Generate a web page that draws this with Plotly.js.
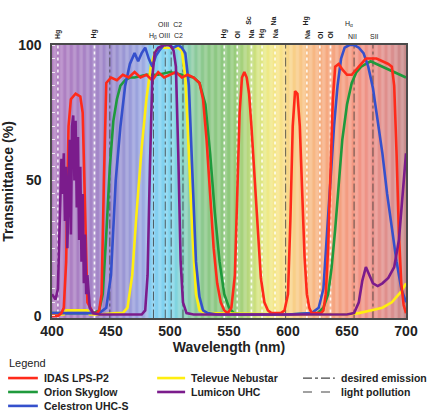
<!DOCTYPE html>
<html>
<head>
<meta charset="utf-8">
<script src="https://cdn.plot.ly/plotly-3.0.1.min.js"></script>
<style>html,body{margin:0;padding:0;background:#fff;}#chart{width:438px;height:418px;}</style>
</head>
<body>
<div id="chart"></div>
<script>
// ---- data ----
const idasWl = [400,405,408,410,412,414,416,420,424,426,428,430,435,438,440,442,444,446,450,455,460,465,470,475,480,485,490,495,500,505,510,515,520,525,528,531,534,537,540,543,546,549,552,555,557,559,561,563,565,567,569,571,573,575,577,580,583,586,590,594,597,600,602,604,606,608,610,612,614,616,618,620,625,628,630,632,634,636,638,640,643,646,650,654,658,662,666,670,675,680,685,688,690,692,694,696,698,700];
const idasT  = [0,0,1,3,20,70,80,82,81,75,40,5,1,1,2,8,50,86,88,87,89,88,90,88,89,87,90,88,89,90,88,89,88,86,80,65,45,25,12,5,2,1,3,15,45,75,88,90,88,82,70,55,40,25,14,5,2,1,1,1,2,8,35,70,83,82,70,45,22,8,3,1,1,1,2,8,25,55,80,92,93,91,89,89,91,93,95,95,95,94,93,92,85,60,30,12,4,1];

const orionWl = [400,420,435,440,443,446,449,452,455,458,462,466,470,480,490,500,510,520,525,530,534,538,542,546,550,554,560,600,625,630,634,637,640,643,646,650,654,658,662,666,670,675,680,685,690,695,700];
const orionT  = [1,1,1,2,8,30,55,72,80,85,87,88,88,89,89,90,89,88,86,78,60,38,20,8,3,1,0.5,0.5,1,3,8,18,32,50,65,78,86,90,92,93,94,93,92,91,90,89,88];

const celesWl = [400,430,440,446,450,454,458,462,466,470,473,476,479,482,485,488,491,495,499,503,507,510,513,516,519,522,525,528,532,540,600,620,626,630,633,636,639,642,645,648,652,656,660,664,668,672,676,680,684,688,692,696,700];
const celesT  = [1,1,1,3,15,50,70,85,93,97,94,97,99,95,92,96,98,100,100,99,100,99,97,85,50,20,7,2,1,0.5,0.5,1,3,10,30,50,70,85,95,99,100,100,99,97,92,84,72,60,45,32,20,10,5];

const nebuWl = [400,410,412,430,432,440,455,460,464,468,472,476,480,484,488,492,500,506,510,513,516,519,522,525,530,600,650,660,670,680,688,692,696,700];
const nebuT  = [0.5,0.5,2,2,0.5,0.5,1,1,3,15,40,62,80,93,98,99,99,99,98,88,60,30,8,2,1,0.5,0.5,1,2,3,5,7,9,12];

const lumiWl = [400,403,405,407,408,409,410,411,412,413,414,415,416,417,418,419,420,421,422,423,424,425,426,427,428,429,430,432,435,440,470,476,479,481,483,485,487,490,495,500,503,505,507,509,511,514,520,600,650,656,660,663,666,669,672,676,680,685,690,694,697,700];
const lumiT  = [8,6,10,40,58,45,60,35,55,25,50,65,30,70,74,50,72,40,66,28,55,20,45,12,30,8,15,3,1,0.5,0.5,0.5,2,15,55,88,97,99,100,100,98,92,60,20,5,1,0.5,0.5,0.5,1,5,13,18,15,12,11,12,14,18,28,45,60];

const lightPollution = [405,436,546,557,569,578,589,616,627,636];
const desiredEmission = [449,486,496,501,511,598,656,672];

const filterNames = ['IDAS LPS-P2','Orion Skyglow','Celestron UHC-S','Televue Nebustar','Lumicon UHC'];
const filterColors = ['#ff2a1a','#1f9a3c','#3550cc','#ffee10','#7b1c8c'];
const lineNames = ['desired emission','light pollution'];

const xTicks = [400,450,500,550,600,650,700];
const yTicks = [0,50,100];

// top labels: [wavelength, text]
const lpLabelsLow  = [[405,'Hg'],[436,'Hg'],[546,'Hg'],[557,'OI'],[569,'Na'],[578,'Hg'],[589,'Na'],[616,'Na'],[627,'OI'],[636,'OI']];
const lpLabelsHigh = [[567,'Sc'],[588,'Na'],[615,'Hg']];
const emLabelsHigh = [[500,'OIII  C2'],[652,'H<sub>α</sub>']];
const emLabelsLow  = [[497,'H<sub>β</sub> OIII  C2'],[655,'NII'],[673,'SII']];

// background spectrum colour stops
const bgStops = [[400,'#b27fc1'],[420,'#ab80c3'],[440,'#a286c8'],[455,'#9a90d0'],[470,'#9aa0dc'],[480,'#9caee4'],[483,'#84ccf0'],[498,'#80d4f0'],[505,'#80d4e0'],[512,'#84d0c0'],[520,'#8ccaa0'],[530,'#8cc888'],[550,'#8ec87c'],[562,'#a8d27c'],[572,'#cce07e'],[582,'#ecea86'],[592,'#f8e488'],[602,'#f8d488'],[615,'#f8c086'],[630,'#f6ac80'],[645,'#f4a080'],[660,'#f29484'],[675,'#e8908a'],[690,'#d88e8e'],[700,'#c48888']];

// ---- build ----
function hex2rgb(h){return [parseInt(h.slice(1,3),16),parseInt(h.slice(3,5),16),parseInt(h.slice(5,7),16)];}
function colorAt(w){
  for(let i=0;i<bgStops.length-1;i++){
    const a=bgStops[i], b=bgStops[i+1];
    if(w>=a[0] && w<=b[0]){
      const t=(w-a[0])/(b[0]-a[0]); const ca=hex2rgb(a[1]), cb=hex2rgb(b[1]);
      return 'rgb('+ca.map((v,k)=>Math.round(v+(cb[k]-v)*t)).join(',')+')';
    }
  }
  return bgStops[bgStops.length-1][1];
}
const shapes=[];
for(let w=400; w<700; w++){
  shapes.push({type:'rect',xref:'x',yref:'paper',x0:w,x1:w+1.1,y0:0,y1:1,fillcolor:colorAt(w+0.5),line:{width:0},layer:'below'});
}
function vl(arr){const x=[],y=[];arr.forEach(v=>{x.push(v,v,null);y.push(-1,100,null);});return {x,y};}

const traces=[];
const lp=vl(lightPollution), em=vl(desiredEmission);
traces.push({x:lp.x,y:lp.y,mode:'lines',line:{color:'rgba(255,255,255,0.9)',width:1.6,dash:'dot'},hoverinfo:'skip',showlegend:false});
traces.push({x:em.x,y:em.y,mode:'lines',line:{color:'rgba(60,60,60,0.8)',width:1,dash:'dashdot'},hoverinfo:'skip',showlegend:false});
const series=[[orionWl,orionT,1],[nebuWl,nebuT,3],[celesWl,celesT,2],[idasWl,idasT,0],[lumiWl,lumiT,4]];
series.forEach(s=>traces.push({x:s[0],y:s[1],name:filterNames[s[2]],mode:'lines',line:{color:filterColors[s[2]],width:2.6},showlegend:false}));

const ann=[];
const f7={family:'Liberation Sans, Arial, sans-serif',size:7,color:'#222'};
lpLabelsLow.forEach(l=>ann.push({x:l[0],y:1.016,xref:'x',yref:'paper',text:'<b>'+l[1]+'</b>',textangle:-90,showarrow:false,xanchor:'center',yanchor:'bottom',font:f7}));
lpLabelsHigh.forEach(l=>ann.push({x:l[0],y:1.065,xref:'x',yref:'paper',text:'<b>'+l[1]+'</b>',textangle:-90,showarrow:false,xanchor:'center',yanchor:'bottom',font:f7}));
emLabelsHigh.forEach(l=>ann.push({x:l[0],y:1.055,xref:'x',yref:'paper',text:l[1],showarrow:false,xanchor:'center',yanchor:'bottom',font:f7}));
emLabelsLow.forEach(l=>ann.push({x:l[0],y:1.01,xref:'x',yref:'paper',text:l[1],showarrow:false,xanchor:'center',yanchor:'bottom',font:f7}));

// manual legend
const lf={family:'Liberation Sans, Arial, sans-serif',size:11,color:'#222'};
ann.push({x:-0.126,y:-0.165,xref:'paper',yref:'paper',text:'Legend',showarrow:false,xanchor:'left',yanchor:'middle',font:lf});
const cols=[[-0.124,-0.040,-0.028],[0.297,0.376,0.387],[0.709,0.799,0.811]];
const rows=[-0.220,-0.271,-0.322];
const legItems=[[0,0,filterNames[0],filterColors[0],'solid',2.6],[0,1,filterNames[1],filterColors[1],'solid',2.6],[0,2,filterNames[2],filterColors[2],'solid',2.6],
  [1,0,filterNames[3],filterColors[3],'solid',2.6],[1,1,filterNames[4],filterColors[4],'solid',2.6],
  [2,0,lineNames[0],'#444','dashdot',1.2],[2,1,lineNames[1],'#444','dash',1.2]];
legItems.forEach(it=>{
  const c=cols[it[0]], r=rows[it[1]];
  shapes.push({type:'line',xref:'paper',yref:'paper',x0:c[0],x1:c[1],y0:r,y1:r,line:{color:it[3],width:it[5],dash:it[4]}});
  ann.push({x:c[2],y:r,xref:'paper',yref:'paper',text:'<b>'+it[2]+'</b>',showarrow:false,xanchor:'left',yanchor:'middle',font:{family:lf.family,size:10.5,color:'#222'}});
});

const layout={
  width:438,height:418,
  margin:{l:52,r:32,t:45,b:100},
  paper_bgcolor:'#fff',plot_bgcolor:'#fff',
  showlegend:false,
  font:{family:'Liberation Sans, Arial, sans-serif',color:'#222'},
  xaxis:{range:[400,700],tickvals:xTicks,ticktext:xTicks.map(String),showgrid:false,zeroline:false,
    showline:true,mirror:true,linecolor:'#4a4a4a',linewidth:1.6,ticks:'',
    tickfont:{size:14,weight:'bold',color:'#222'},
    title:{text:'<b>Wavelength (nm)</b>',font:{size:14,color:'#222'},standoff:2}},
  yaxis:{range:[-0.8,100],tickvals:yTicks,ticktext:yTicks.map(String),showgrid:false,zeroline:false,
    showline:true,mirror:true,linecolor:'#4a4a4a',linewidth:1.6,ticks:'',ticklabelstandoff:6,
    tickfont:{size:14,weight:'bold',color:'#222'},
    minor:{ticks:'inside',dtick:5,ticklen:3,tickcolor:'rgba(255,255,255,0.8)'},
    title:{text:'<b>Transmittance (%)</b>',font:{size:14,color:'#222'},standoff:8}},
  shapes:shapes,
  annotations:ann
};
Plotly.newPlot('chart',traces,layout,{displayModeBar:false,staticPlot:true});
</script>
</body>
</html>
